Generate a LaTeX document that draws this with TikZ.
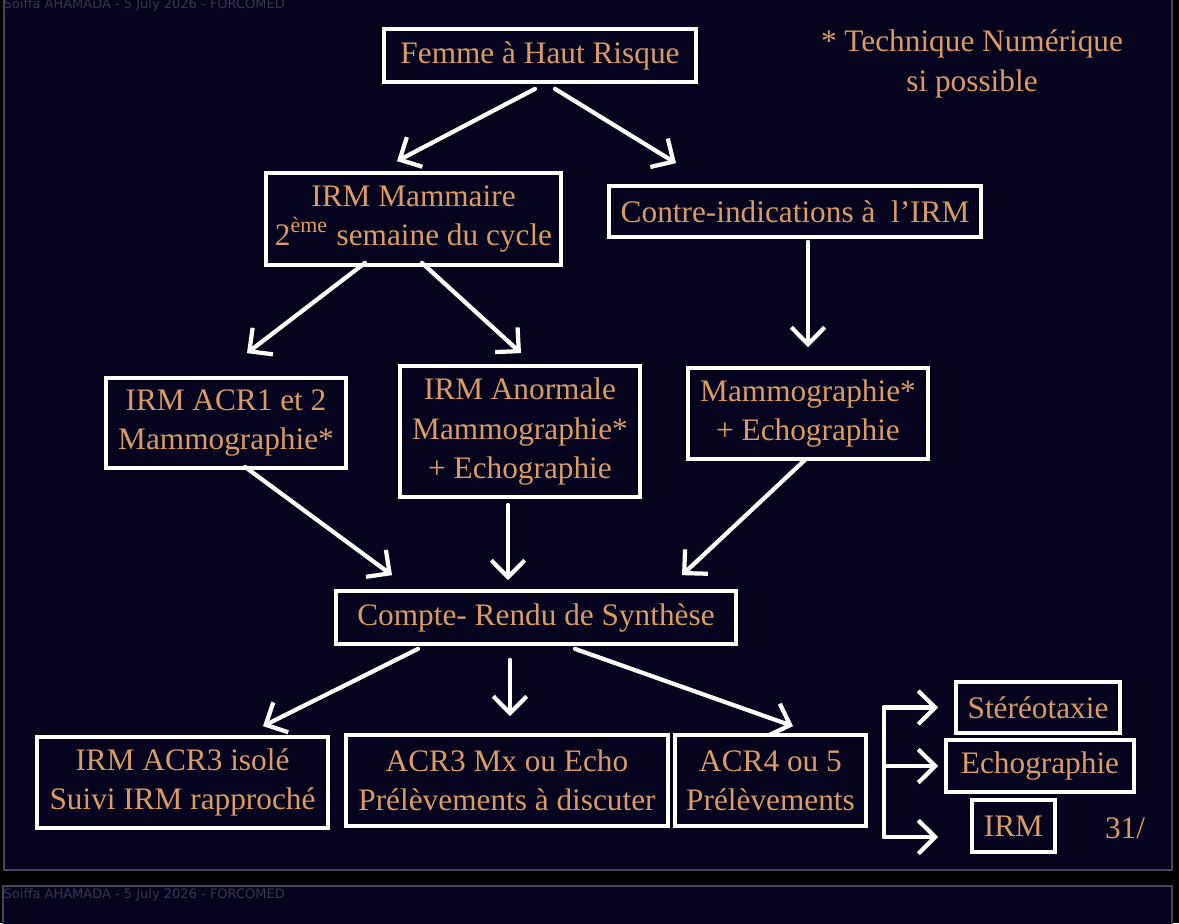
\documentclass[tikz,border=0pt]{standalone}
\usepackage{fontspec}
\setmainfont{Liberation Serif}
\newfontfamily\hdrfont{DejaVu Sans}
\usetikzlibrary{arrows.meta, calc}
\definecolor{slide}{RGB}{6,3,30}
\definecolor{ochre}{RGB}{218,156,100}
\definecolor{rim}{RGB}{70,68,92}
\definecolor{hdr}{RGB}{55,52,78}
\tikzset{
  box/.style={draw=white, line width=1.05pt, text=ochre, align=center, inner sep=0pt, font=\fontsize{8.9}{11.2}\selectfont},
  note/.style={text=ochre, align=center, inner sep=0pt, font=\fontsize{8.9}{11.2}\selectfont},
  arr/.style={draw=white, line width=1.2pt, line cap=round, -{Straight Barb[length=4.8pt,width=9.5pt]}},
  lnk/.style={draw=white, line width=1.2pt, line cap=round},
  hdrtext/.style={text=hdr, inner sep=0pt, anchor=west, font=\hdrfont\fontsize{3.7}{4.4}\selectfont}
}

\begin{document}
\begin{tikzpicture}[x=0.01cm, y=-0.01cm]
\useasboundingbox (0,0) rectangle (1179,923);
\fill[black] (0,0) rectangle (1179,923);
\filldraw[fill=slide, draw=rim, line width=0.4pt] (4,-5) rectangle (1172,870);
\filldraw[fill=slide, draw=rim, line width=0.4pt] (3,886) rectangle (1172,940);
\node[hdrtext] (hdra) at (3,5) {Soiffa AHAMADA - 5 July 2026 - FORCOMED};
\node[hdrtext] (hdrb) at (3,895) {Soiffa AHAMADA - 5 July 2026 - FORCOMED};

\node[box, minimum width=3.12cm, minimum height=0.53cm] (top) at (540,55.5) {Femme à Haut Risque};
\node[note] (tech) at (972,64) {* Technique Numérique\\si possible};
\node[box, minimum width=2.95cm, minimum height=0.92cm] (irmm) at (413.5,219) {IRM Mammaire\\2\textsuperscript{ème} semaine du cycle};
\node[box, minimum width=3.72cm, minimum height=0.51cm] (contre) at (795,211.5) {Contre-indications à~ l’IRM};
\node[box, minimum width=2.40cm, minimum height=0.90cm] (acr12) at (226,423) {IRM ACR1 et 2\\Mammographie*};
\node[box, minimum width=2.40cm, minimum height=1.31cm] (anorm) at (520,431.5) {IRM Anormale\\Mammographie*\\+ Echographie};
\node[box, minimum width=2.40cm, minimum height=0.91cm] (mammo) at (808,413.5) {Mammographie*\\+ Echographie};
\node[box, minimum width=4.00cm, minimum height=0.53cm] (compte) at (536,617.5) {Compte- Rendu de Synthèse};
\node[box, minimum width=2.91cm, minimum height=0.91cm] (acr3) at (182.5,782.5) {IRM ACR3 isolé\\Suivi IRM rapproché};
\node[box, minimum width=3.22cm, minimum height=0.91cm] (acr3mx) at (507,780.5) {ACR3 Mx ou Echo\\Prélèvements à discuter};
\node[box, minimum width=1.91cm, minimum height=0.91cm] (acr45) at (770.5,780.5) {ACR4 ou 5\\Prélèvements};
\node[box, minimum width=1.64cm, minimum height=0.51cm] (stereo) at (1038,707.5) {Stéréotaxie};
\node[box, minimum width=1.88cm, minimum height=0.52cm] (echo) at (1040,766) {Echographie};
\node[box, minimum width=0.83cm, minimum height=0.52cm] (irm) at (1013.5,826) {IRM};
\node[note] (pg) at (1125,828) {31/};

\draw[arr] ($(top.south)+(-5,5)$) -- ($(irmm.north)+(-16.5,-10)$);
\draw[arr] ($(top.south)+(15,5)$) -- ($(contre.north)+(-119,-21)$);
\draw[arr] ($(irmm.south)+(-48.5,-4)$) -- ($(acr12.north)+(21,-23)$);
\draw[arr] ($(irmm.south)+(8.5,-4)$) -- ($(anorm.north)+(1,-11)$);
\draw[arr] ($(contre.south)+(13,3)$) -- ($(mammo.north)+(0,-19)$);
\draw[arr] ($(acr12.south)+(19,-3)$) -- ($(compte.north)+(-144,-14)$);
\draw[arr] ($(anorm.south)+(-12,6)$) -- ($(compte.north)+(-28,-9)$);
\draw[arr] ($(mammo.south)+(-3,-1)$) -- ($(compte.north)+(146,-14)$);
\draw[arr] ($(compte.south)+(-118,3)$) -- ($(acr3.north)+(80.5,-9)$);
\draw[arr] ($(compte.south)+(-26,14)$) -- ($(acr3mx.north)+(3,-17)$);
\draw[arr] ($(compte.south)+(39,3)$) -- ($(acr45.north)+(22.5,-7)$);

\coordinate (forktop) at ($(acr45.east)+(16,-73)$);
\coordinate (forkbot) at ($(acr45.east)+(16,56.5)$);
\draw[lnk] (forktop) -- (forkbot);
\draw[arr] (forktop) -- ($(stereo.west)+(-16,0)$);
\draw[arr] (forktop |- echo.west) -- ($(echo.west)+(-6,0)$);
\draw[arr] (forkbot) -- ($(irm.west)+(-32,11)$);
\end{tikzpicture}
\end{document}
